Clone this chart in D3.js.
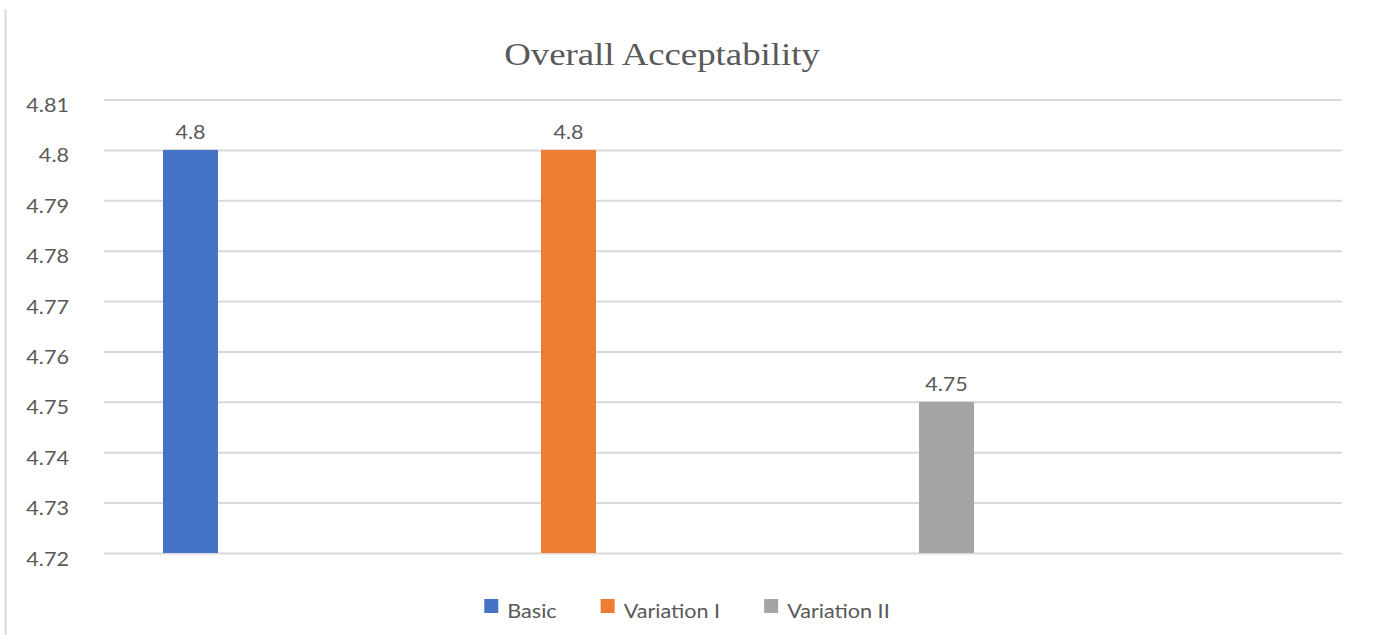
<!DOCTYPE html>
<html>
<head>
<meta charset="utf-8">
<script src="https://cdn.jsdelivr.net/npm/d3@7"></script>
<style>
  html, body { margin: 0; padding: 0; background: #ffffff; }
  svg { display: block; }
</style>
</head>
<body>
<svg id="chart" width="1376" height="635"></svg>
<script>
// ---- data ----
const chartTitle = "Overall Acceptability";
const seriesNames = ["Basic", "Variation I", "Variation II"];
const seriesValues = [4.8, 4.8, 4.75];
const seriesColors = ["#4472C4", "#ED7D31", "#A5A5A5"];
const yTicks = [4.72, 4.73, 4.74, 4.75, 4.76, 4.77, 4.78, 4.79, 4.8, 4.81];
const yTickLabels = ["4.72", "4.73", "4.74", "4.75", "4.76", "4.77", "4.78", "4.79", "4.8", "4.81"];
const valueLabels = ["4.8", "4.8", "4.75"];

// ---- layout ----
const plot = { left: 104, right: 1342, top: 99.5, bottom: 553 };
const sansFont = "Lato, 'Open Sans', sans-serif";
const serifFont = "'Liberation Serif', 'Times New Roman', serif";
const textColor = "#595959";
const sansStretch = 1.08;
const serifStretch = 1.15;

const svg = d3.select("#chart");

const y = d3.scaleLinear()
  .domain([yTicks[0], yTicks[yTicks.length - 1]])
  .range([plot.bottom, plot.top]);

const x = d3.scaleBand()
  .domain(seriesNames)
  .range([plot.left, 1033])
  .paddingInner(0.8545)
  .paddingOuter(0.156);

// horizontally stretched text helper
function addText(parent, str, px, py, opts) {
  return parent.append("text")
    .attr("transform", `translate(${px},${py}) scale(${opts.sx},1)`)
    .attr("text-anchor", opts.anchor || "start")
    .attr("font-family", opts.family)
    .attr("font-size", opts.size)
    .attr("fill", opts.fill || textColor)
    .text(str);
}

// chart area left edge
svg.append("line")
  .attr("x1", 5.5).attr("x2", 5.5)
  .attr("y1", 9).attr("y2", 635)
  .attr("stroke", "#d9d9d9").attr("stroke-width", 2);

// title
addText(svg, chartTitle, 662, 65, { sx: serifStretch, anchor: "middle", family: serifFont, size: 32 });

// gridlines
const grid = svg.append("g")
  .attr("transform", `translate(${plot.left},0)`)
  .call(d3.axisLeft(y)
    .tickValues(yTicks)
    .tickSize(-(plot.right - plot.left))
    .tickFormat(""));
grid.select(".domain").remove();
grid.selectAll(".tick line")
  .attr("stroke", "#d9d9d9")
  .attr("stroke-width", 2);

// y tick labels
const tickLayer = svg.append("g");
yTicks.forEach((t, i) => {
  addText(tickLayer, yTickLabels[i], 69, y(t) + 12.5,
    { sx: sansStretch, anchor: "end", family: sansFont, size: 20 });
});

// bars
svg.append("g")
  .selectAll("rect")
  .data(seriesNames)
  .join("rect")
  .attr("x", d => x(d))
  .attr("width", x.bandwidth())
  .attr("y", (d, i) => y(seriesValues[i]))
  .attr("height", (d, i) => y(yTicks[0]) - y(seriesValues[i]))
  .attr("fill", (d, i) => seriesColors[i]);

// value labels
const valueLayer = svg.append("g");
seriesNames.forEach((s, i) => {
  addText(valueLayer, valueLabels[i], x(s) + x.bandwidth() / 2, y(seriesValues[i]) - 11,
    { sx: sansStretch, anchor: "middle", family: sansFont, size: 20 });
});

// legend
const legend = svg.append("g");
const swatch = 14, swatchGap = 9, itemGap = 44, legendCenter = 687, legendBaseline = 618;
const items = seriesNames.map((s, i) => {
  const g = legend.append("g");
  g.append("rect")
    .attr("width", swatch).attr("height", swatch)
    .attr("y", legendBaseline - 19)
    .attr("fill", seriesColors[i]);
  const t = addText(g, s, swatch + swatchGap, legendBaseline,
    { sx: sansStretch, anchor: "start", family: sansFont, size: 20 });
  const w = swatch + swatchGap + t.node().getComputedTextLength() * sansStretch;
  return { g, w };
});
const total = d3.sum(items, d => d.w) + itemGap * (items.length - 1);
let cursor = legendCenter - total / 2;
items.forEach(it => {
  it.g.attr("transform", `translate(${cursor},0)`);
  cursor += it.w + itemGap;
});
</script>
</body>
</html>
